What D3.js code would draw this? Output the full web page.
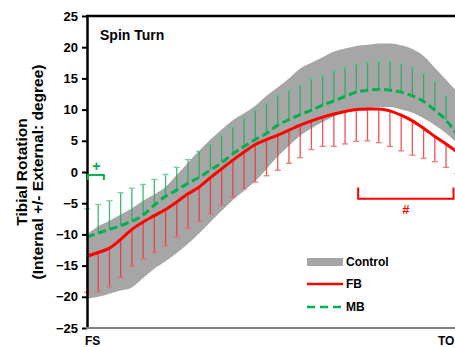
<!DOCTYPE html>
<html><head><meta charset="utf-8">
<script src="https://cdn.jsdelivr.net/npm/d3@7"></script>
<style>
html,body{margin:0;padding:0;background:#fff;overflow:hidden}
svg{display:block;font-family:"Liberation Sans",Arial,sans-serif;font-weight:bold}
</style></head>
<body>
<svg id="c" width="455" height="347"></svg>
<script>
// % of stance (FS -> TO)
const pct = [0,3,6,9,12,15,18,21,24,27,30,33,36,39,42,45,48,51,54,57,60,63,66,69,72,75,78,81,84,87,90,93,96,99];
// Control mean and SD (grey band)
const controlMean = [-15.15,-14.35,-13.65,-12.9,-12.15,-10.8,-9.55,-8.35,-6.75,-5.0,-3.2,-1.4,0.3,1.9,3.2,4.55,6.35,8.05,9.6,11.2,12.25,13.2,14.1,14.7,15.1,15.3,15.5,15.5,15.15,14.6,13.6,12.1,10.5,8.7];
const controlSD = [5.15,5.65,5.85,6.1,6.35,6.2,5.95,5.95,6.25,6.5,6.6,6.6,6.5,6.4,6.2,6.05,5.85,5.55,5.4,5.4,5.25,5.2,5.2,5.1,5.1,5.1,5.1,5.1,5.15,5.1,5.0,4.6,4.3,4.1];
// FB mean and SD (red, bars downward)
const fbMean = [-13.5,-12.9,-12.2,-10.8,-9.2,-8.0,-7.0,-6.0,-4.8,-3.5,-2.4,-0.9,0.5,1.9,3.2,4.4,5.2,5.9,6.7,7.5,8.2,8.8,9.3,9.7,10.0,10.1,10.1,9.8,9.1,8.2,7.0,5.7,4.5,3.2];
const fbSD = [5.8,6.3,6.2,6.1,5.9,5.9,5.9,5.8,5.6,5.5,5.5,5.8,5.8,5.9,5.9,6.0,5.8,5.6,5.3,5.2,4.6,4.7,5.2,5.2,5.1,5.1,5.4,5.7,5.7,5.5,4.8,4.05,3.75,3.5];
// MB mean and SD (green, bars upward)
const mbMean = [-10.4,-9.8,-9.2,-8.6,-7.9,-6.9,-5.3,-3.9,-2.9,-1.8,-0.85,0.3,1.5,2.9,4.1,5.2,6.2,7.5,8.4,9.2,9.9,10.7,11.4,12.1,12.8,13.1,13.25,13.1,12.8,12.2,11.3,9.9,8.3,6.0];
const mbSD = [4.5,4.6,4.6,5.3,5.3,4.9,4.1,3.5,3.65,3.8,4.15,4.1,4.3,4.3,4.5,4.7,4.8,4.7,4.7,4.7,5.0,4.8,4.8,4.7,4.5,4.5,4.45,4.6,4.5,4.6,4.5,4.6,3.9,4.0];
const yTicks = [-25,-20,-15,-10,-5,0,5,10,15,20,25];
const xLabels = ["FS","TO"];
const legendLabels = ["Control","FB","MB"];
const title = "Spin Turn";
const yTitle = ["Tibial Rotation","(Internal +/- External: degree)"];
const mbSig = [0,4.5];   // "+" region
const fbSig = [72.5,98]; // "#" region

const svg = d3.select("#c");
const x = d3.scaleLinear().domain([0,100]).range([87,461]);
const y = d3.scaleLinear().domain([-25,25]).range([328,16]);

const data = pct.map((p,i)=>({p, cm:controlMean[i], cs:controlSD[i], fm:fbMean[i], fs:fbSD[i], mm:mbMean[i], ms:mbSD[i]}));
const curve = d3.curveMonotoneX;

// band
svg.append("path").datum(data)
  .attr("d", d3.area().curve(curve).x(d=>x(d.p)).y0(d=>y(d.cm-d.cs)).y1(d=>y(d.cm+d.cs)))
  .attr("fill","#a6a6a6");

// red error bars (down)
const rb = svg.append("g").attr("stroke","#ee3434").attr("stroke-width",1.3).attr("opacity",0.85);
data.forEach(d=>{
  rb.append("line").attr("x1",x(d.p)).attr("x2",x(d.p)).attr("y1",y(d.fm)).attr("y2",y(d.fm-d.fs));
  rb.append("line").attr("x1",x(d.p)-3).attr("x2",x(d.p)+3).attr("y1",y(d.fm-d.fs)).attr("y2",y(d.fm-d.fs)).attr("stroke","#f06464");
});
// green error bars (up)
const gb = svg.append("g").attr("stroke","#1fae5a").attr("stroke-width",1.3).attr("opacity",0.85);
data.forEach(d=>{
  gb.append("line").attr("x1",x(d.p)).attr("x2",x(d.p)).attr("y1",y(d.mm)).attr("y2",y(d.mm+d.ms));
  gb.append("line").attr("x1",x(d.p)-3).attr("x2",x(d.p)+3).attr("y1",y(d.mm+d.ms)).attr("y2",y(d.mm+d.ms)).attr("stroke","#5cc88a");
});

// lines
svg.append("path").datum(data)
  .attr("d", d3.line().curve(curve).x(d=>x(d.p)).y(d=>y(d.fm)))
  .attr("fill","none").attr("stroke","#ff0000").attr("stroke-width",3);
svg.append("path").datum(data)
  .attr("d", d3.line().curve(curve).x(d=>x(d.p)).y(d=>y(d.mm)))
  .attr("fill","none").attr("stroke","#00b050").attr("stroke-width",3).attr("stroke-dasharray","8,4");

// axes
const yAxis = d3.axisLeft(y).tickValues(yTicks).tickSize(5).tickPadding(4).tickSizeOuter(0);
const ga = svg.append("g").attr("transform","translate(87,0)").call(yAxis);
ga.select(".domain").attr("stroke","#000").attr("stroke-width",2.5);
ga.selectAll(".tick line").attr("stroke","#000").attr("stroke-width",2);
ga.selectAll(".tick text").attr("font-size",13).attr("font-weight","bold").attr("fill","#000")
  .attr("font-family","Liberation Sans, Arial, sans-serif");

// top border
svg.append("line").attr("x1",86).attr("x2",470).attr("y1",y(25)).attr("y2",y(25)).attr("stroke","#000").attr("stroke-width",2.5);
// bottom axis
svg.append("line").attr("x1",86).attr("x2",470).attr("y1",y(-25)).attr("y2",y(-25)).attr("stroke","#808080").attr("stroke-width",2);

// x labels
svg.append("text").attr("x",x(0)-2).attr("y",345).attr("font-size",12).text(xLabels[0]);
svg.append("text").attr("x",438).attr("y",345).attr("font-size",12).text(xLabels[1]);

// title
svg.append("text").attr("x",100).attr("y",40).attr("font-size",14).text(title);

// y title
const yt = svg.append("text").attr("transform","translate(0,172) rotate(-90)").attr("text-anchor","middle").attr("font-size",15.5);
yt.append("tspan").attr("x",0).attr("y",27).text(yTitle[0]);
yt.append("tspan").attr("x",0).attr("y",43).text(yTitle[1]);

// MB significance bracket
const gs = svg.append("g").attr("stroke","#00b050").attr("stroke-width",2).attr("fill","none");
gs.append("path").attr("d",`M${x(mbSig[0])+1},${y(-1.3)}V${y(-0.5)}H${x(mbSig[1])}V${y(-1.3)}`);
svg.append("text").attr("x",(x(mbSig[0])+x(mbSig[1]))/2+1).attr("y",y(0.1)).attr("text-anchor","middle").attr("font-size",14).attr("fill","#00b050").text("+");

// FB significance bracket
const fsb = svg.append("g").attr("stroke","#ff0000").attr("stroke-width",2).attr("fill","none");
fsb.append("path").attr("d",`M${x(fbSig[0])},${y(-2.5)}V${y(-4.3)}H${x(fbSig[1])}V${y(-2.5)}`);
svg.append("text").attr("x",(x(fbSig[0])+x(fbSig[1]))/2).attr("y",214).attr("text-anchor","middle").attr("font-size",13).attr("fill","#ff0000").text("#");

// legend
const lg = svg.append("g").attr("transform","translate(307,0)");
lg.append("rect").attr("x",0).attr("y",258).attr("width",36).attr("height",8).attr("fill","#a6a6a6");
lg.append("line").attr("x1",0).attr("x2",36).attr("y1",284).attr("y2",284).attr("stroke","#ff0000").attr("stroke-width",2.5);
lg.append("line").attr("x1",0).attr("x2",36).attr("y1",307).attr("y2",307).attr("stroke","#00b050").attr("stroke-width",2.5).attr("stroke-dasharray","8,5");
[262,284,307].forEach((yy,i)=>{
  lg.append("text").attr("x",39).attr("y",yy+4).attr("font-size",12).text(legendLabels[i]);
});
</script>
</body></html>
